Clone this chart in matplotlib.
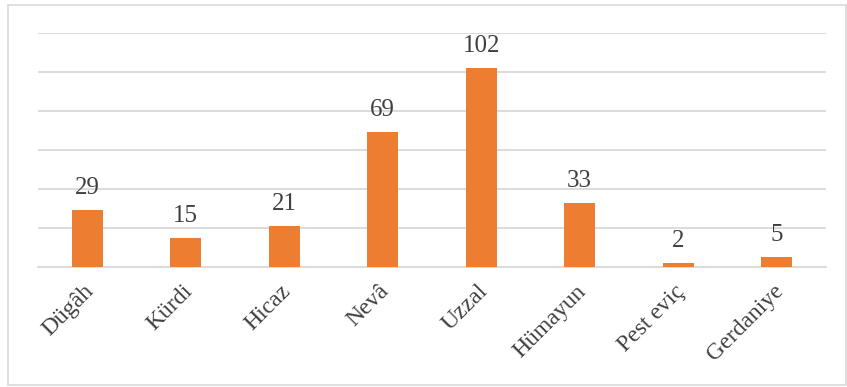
import matplotlib
matplotlib.use("Agg")
import matplotlib.pyplot as plt
from matplotlib.patches import Rectangle
from matplotlib.transforms import ScaledTranslation

categories = ["Dügâh", "Kürdi", "Hicaz", "Nevâ", "Uzzal", "Hümayun", "Pest eviç", "Gerdaniye"]
values = [29, 15, 21, 69, 102, 33, 2, 5]

plt.rcParams['font.family'] = ['Liberation Serif', 'DejaVu Serif']
W, H = 847, 387
fig = plt.figure(figsize=(W/100, H/100), dpi=100)
fig.patch.set_facecolor('white')
fig.patches.append(Rectangle((8/W, 2/H), 838/W, 380/H, transform=fig.transFigure,
                             fill=False, edgecolor='#D9D9D9', linewidth=1.2))

ax = fig.add_axes([38/W, 120/H, (826-38)/W, (354-120)/H])
x = range(len(categories))
bars = ax.bar(x, values, width=0.315, color='#ED7D31', zorder=3)
ax.set_ylim(0, 120)
ax.set_xlim(-0.5, len(categories)-0.5)
ax.set_yticks(range(0, 121, 20))
ax.yaxis.grid(True, color='#D9D9D9', linewidth=1.3, zorder=0)
ax.tick_params(axis='y', left=False, labelleft=False)
ax.tick_params(axis='x', length=0, pad=10)
for s in ['top', 'right', 'left']:
    ax.spines[s].set_visible(False)
ax.spines['bottom'].set_color('#D9D9D9')
ax.spines['bottom'].set_linewidth(1.3)
ax.set_xticks(list(x))
ax.set_xticklabels(categories, rotation=45, ha='right', rotation_mode='anchor',
                   fontsize=17, color='#404040')
shift = ScaledTranslation(-4/100, 0, fig.dpi_scale_trans)
for lbl in ax.get_xticklabels():
    lbl.set_transform(lbl.get_transform() + shift)
for xi, v in zip(x, values):
    ax.annotate(str(v), (xi, v), xytext=(0, 11.5), textcoords='offset points',
                ha='center', va='baseline', fontsize=18, color='#404040')
fig.savefig('out.png', dpi=100)
